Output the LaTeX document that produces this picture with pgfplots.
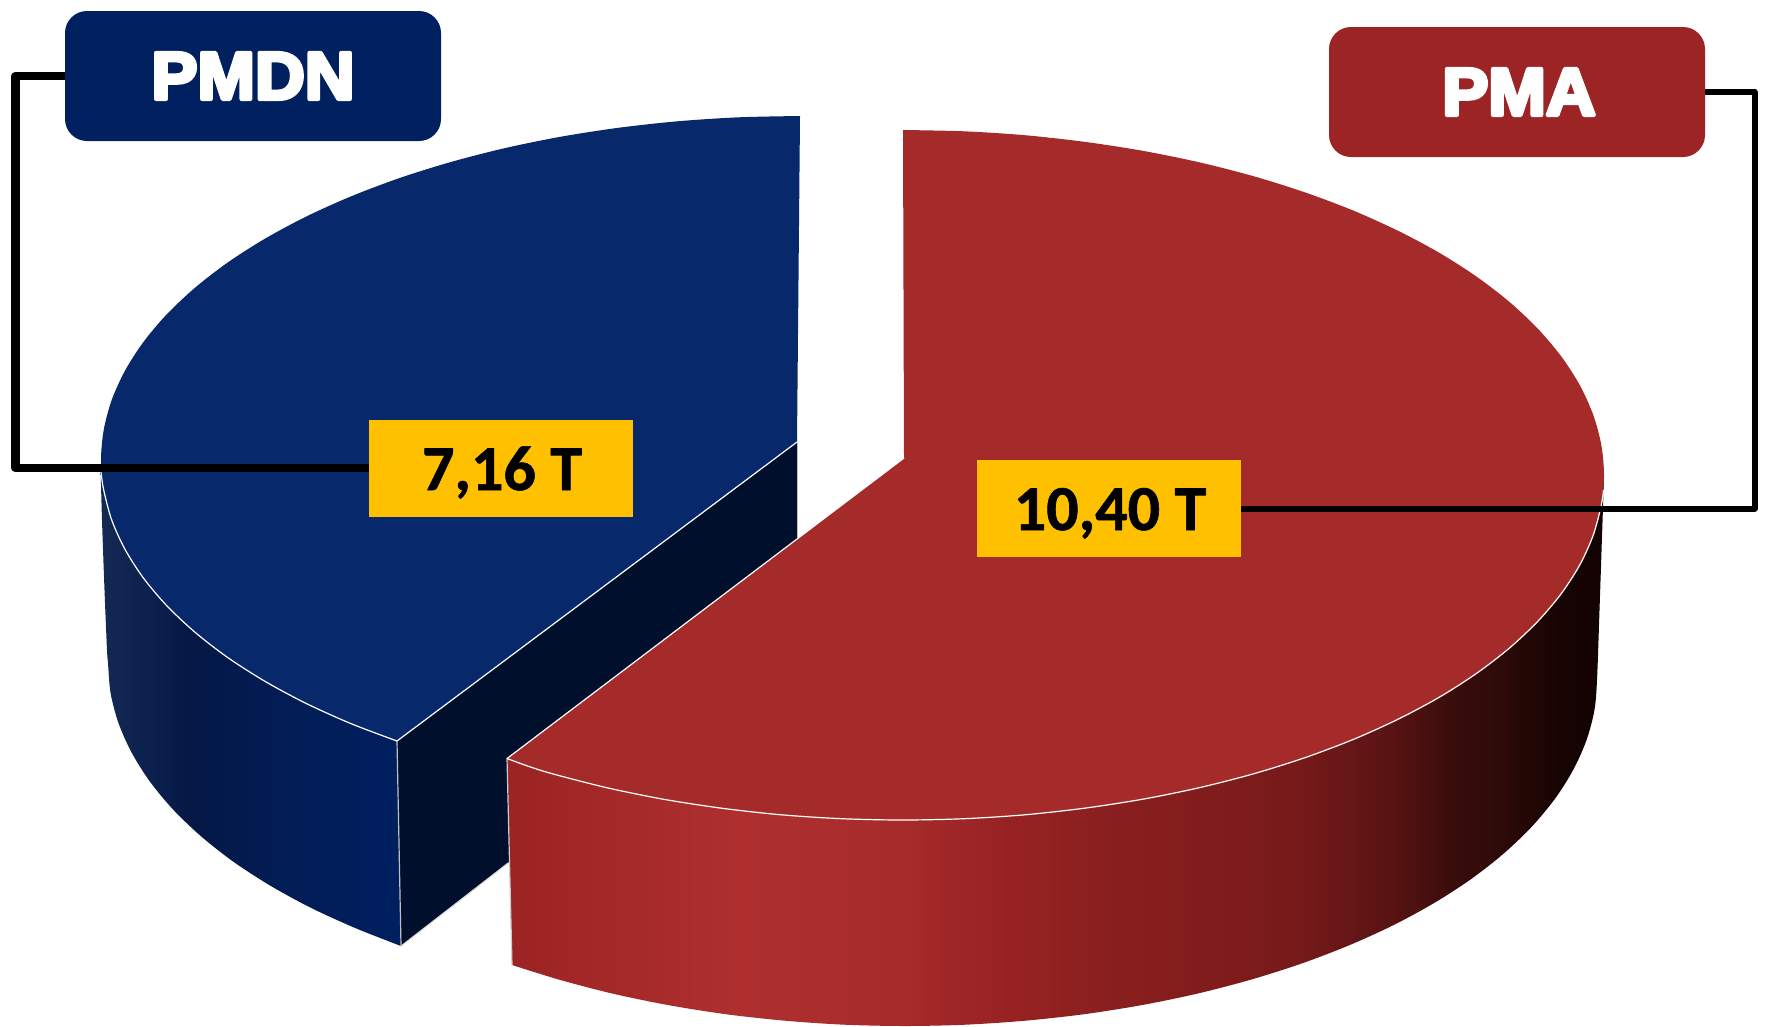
\documentclass[border=0pt]{standalone}
\usepackage{fontspec}
\usepackage{pgfplots}
\pgfplotsset{compat=1.18}
\setmainfont[BoldFeatures={FakeBold=1}]{Carlito}
\newfontfamily\heavy[BoldFeatures={FakeBold=6,FakeStretch=1.03}]{Liberation Sans}
\definecolor{bluetop}{HTML}{07286B}
\definecolor{redtop}{HTML}{A52B2B}
\definecolor{bluebox}{HTML}{012060}
\definecolor{redbox}{HTML}{9C2424}
\definecolor{inner}{HTML}{000F2B}
\definecolor{gold}{HTML}{FFC000}
\definecolor{b0}{HTML}{142A55}
\definecolor{b1}{HTML}{041845}
\definecolor{b2}{HTML}{021C55}
\definecolor{b3}{HTML}{001F60}
\definecolor{r0}{HTML}{9C2323}
\definecolor{r1}{HTML}{AF2F2F}
\definecolor{r2}{HTML}{A72B2B}
\definecolor{r3}{HTML}{9A2323}
\definecolor{r4}{HTML}{8B1F1F}
\definecolor{r5}{HTML}{821C1C}
\definecolor{r6}{HTML}{761A1A}
\definecolor{r7}{HTML}{661616}
\definecolor{r8}{HTML}{551212}
\definecolor{r9}{HTML}{3A0D0C}
\definecolor{r10}{HTML}{2C0A08}
\definecolor{r11}{HTML}{170403}
\definecolor{r12}{HTML}{120302}
\pgfdeclarehorizontalshading{blueside}{100bp}{color(0bp)=(b0); color(25bp)=(b0); color(40bp)=(b1); color(55bp)=(b2); color(75bp)=(b3); color(100bp)=(b3)}
\pgfdeclarehorizontalshading{redside}{100bp}{color(0bp)=(r0); color(25bp)=(r0); color(35.6bp)=(r1); color(42.9bp)=(r2); color(47bp)=(r3); color(52bp)=(r4); color(56.6bp)=(r5); color(61.1bp)=(r6); color(63.4bp)=(r7); color(65.7bp)=(r8); color(68bp)=(r9); color(70.3bp)=(r10); color(73bp)=(r11); color(75bp)=(r12); color(100bp)=(r12)}
\begin{document}
\begin{tikzpicture}
\begin{axis}[
  scale only axis, width=1768pt, height=1026pt,
  xmin=0, xmax=1768, ymin=0, ymax=1026, y dir=reverse,
  hide axis, no marks, clip=false,
  line join=round]
% page area
\addplot[fill=white, draw=none] coordinates {(0,0) (1768,0) (1768,1026) (0,1026)} -- cycle;
% inner wall of the blue slice
\addplot[fill=inner, draw=none] coordinates {(397,741) (797,442) (797,539) (508,863) (401,946)} -- cycle;
\addplot[white!75!black, line width=1pt] coordinates {(797,442) (797,539)};
\addplot[white!85!black, line width=1pt] coordinates {(508,863) (401,946)};
% blue outer side
\addplot[draw=none, shade, shading=blueside, smooth] coordinates {
(100.5,465) (102,520) (104.5,590) (107,650) (108,663) (110.6,693.2) (118.5,723.1) (131.6,752.5) (149.7,781.3) (172.8,809.2)
(200.7,836) (233.1,861.5) (269.9,885.4) (310.7,907.7) (355.2,928) (401,946)} -- (axis cs:397,741) -- (axis cs:300,500) -- cycle;
\addplot[white!75!black, line width=1.2pt] coordinates {(397,741) (401,946)};
% blue top
\addplot[fill=bluetop, draw=none, smooth] coordinates {
(800,116) (739,117.3) (678.7,121.2) (619.1,127.7) (560.9,136.7) (504.6,148.2) (450.5,162.1)
(399.1,178.2) (350.7,196.5) (305.7,216.8) (264.6,238.9) (227.4,262.7) (194.7,288) (166.5,314.6)
(143.2,342.3) (124.8,371) (111.6,400.3) (103.7,430) (101,460) (103.7,490) (111.6,519.7) (124.8,549)
(143.2,577.7) (166.5,605.4) (194.7,632) (227.4,657.3) (264.6,681.1) (305.7,703.2) (350.7,723.5)
(397,741)} -- (axis cs:797,442) -- cycle;
\addplot[white, line width=1.2pt, smooth] coordinates {
(101,472) (103.7,490) (111.6,519.7) (124.8,549) (143.2,577.7) (166.5,605.4) (194.7,632) (227.4,657.3)
(264.6,681.1) (305.7,703.2) (350.7,723.5) (397,741)};
\addplot[white, line width=1.2pt] coordinates {(397,741) (797,442)};
% red outer side
\addplot[draw=none, shade, shading=redside, smooth] coordinates {
(512,965) (559,979.6) (612.6,993.6) (668.3,1005.1) (725.9,1014.2) (784.9,1020.7) (844.7,1024.7)
(905,1026) (965.3,1024.7) (1025.1,1020.7) (1084.1,1014.2) (1141.7,1005.1) (1197.4,993.6) (1251,979.6)
(1301.9,963.4) (1349.8,945) (1394.3,924.7) (1435.1,902.4) (1471.9,878.5) (1504.3,853) (1532.2,826.2)
(1555.3,798.3) (1573.4,769.5) (1586.5,740.1) (1594.4,710.2) (1597,680) (1599.5,610) (1604,477)} -- (axis cs:1000,480) -- (axis cs:507,758) -- cycle;
\addplot[white!80!black, line width=1.2pt] coordinates {(507,758) (512,965)};
% red top
\addplot[fill=redtop, draw=none, smooth] coordinates {
(903,130) (964.1,131.3) (1024.7,135.2) (1084.4,141.8) (1142.7,150.8) (1199.2,162.3) (1253.5,176.2)
(1305.1,192.4) (1353.6,210.7) (1398.7,231.1) (1440,253.2) (1477.2,277.1) (1510.1,302.5) (1538.3,329.2)
(1561.7,357) (1580.1,385.7) (1593.3,415.1) (1601.3,444.9) (1604,475) (1601.3,505.1) (1593.3,534.9)
(1580.1,564.3) (1561.7,593) (1538.3,620.8) (1510.1,647.5) (1477.2,672.9) (1440,696.8) (1398.7,718.9)
(1353.6,739.3) (1305.1,757.6) (1253.5,773.8) (1199.2,787.7) (1142.7,799.2) (1084.4,808.2) (1024.7,814.8)
(964.1,818.7) (903,820) (841.9,818.7) (781.3,814.8) (721.6,808.2) (663.3,799.2) (606.8,787.7) (552.5,773.8) (529,766.5)
(507,758.5)} -- (axis cs:904,458) -- cycle;
\addplot[white, line width=1.2pt, smooth] coordinates {
(1603.5,490) (1601.3,505.1) (1593.3,534.9) (1580.1,564.3) (1561.7,593) (1538.3,620.8) (1510.1,647.5) (1477.2,672.9)
(1440,696.8) (1398.7,718.9) (1353.6,739.3) (1305.1,757.6) (1253.5,773.8) (1199.2,787.7) (1142.7,799.2)
(1084.4,808.2) (1024.7,814.8) (964.1,818.7) (903,820) (841.9,818.7) (781.3,814.8) (721.6,808.2)
(663.3,799.2) (606.8,787.7) (552.5,773.8) (529,766.5) (507,758.5)};
\addplot[white, line width=1.2pt] coordinates {(507,758.5) (904,458)};
% connectors
\addplot[black, line width=8.5pt] coordinates {(65,76) (15.5,76) (15.5,468) (369,468)};
\addplot[black, line width=6pt] coordinates {(1240,508.5) (1754.5,508.5) (1754.5,92) (1705,92)};
% label boxes
\addplot[fill=bluebox, draw=none, rounded corners=22pt] coordinates {(253,11) (441,11) (441,141) (65,141) (65,11)} -- cycle;
\addplot[fill=redbox, draw=none, rounded corners=22pt] coordinates {(1517,27) (1705,27) (1705,157) (1329,157) (1329,27)} -- cycle;
\addplot[fill=gold, draw=none] coordinates {(369,420) (633,420) (633,517) (369,517)} -- cycle;
\addplot[fill=gold, draw=none] coordinates {(976.5,460) (1240.5,460) (1240.5,557) (976.5,557)} -- cycle;
% texts
\node[anchor=base, text=white, font=\heavy\bfseries\fontsize{67}{67}\selectfont] at (axis cs:253,99) {PMDN};
\node[anchor=base, text=white, font=\heavy\bfseries\fontsize{67}{67}\selectfont] at (axis cs:1519,115) {PMA};
\node[anchor=base, text=black, font=\bfseries\fontsize{64}{64}\selectfont] at (axis cs:502,490) {7,16 T};
\node[anchor=base, text=black, font=\bfseries\fontsize{64}{64}\selectfont] at (axis cs:1110,530) {10,40 T};
\end{axis}
\end{tikzpicture}
\end{document}
